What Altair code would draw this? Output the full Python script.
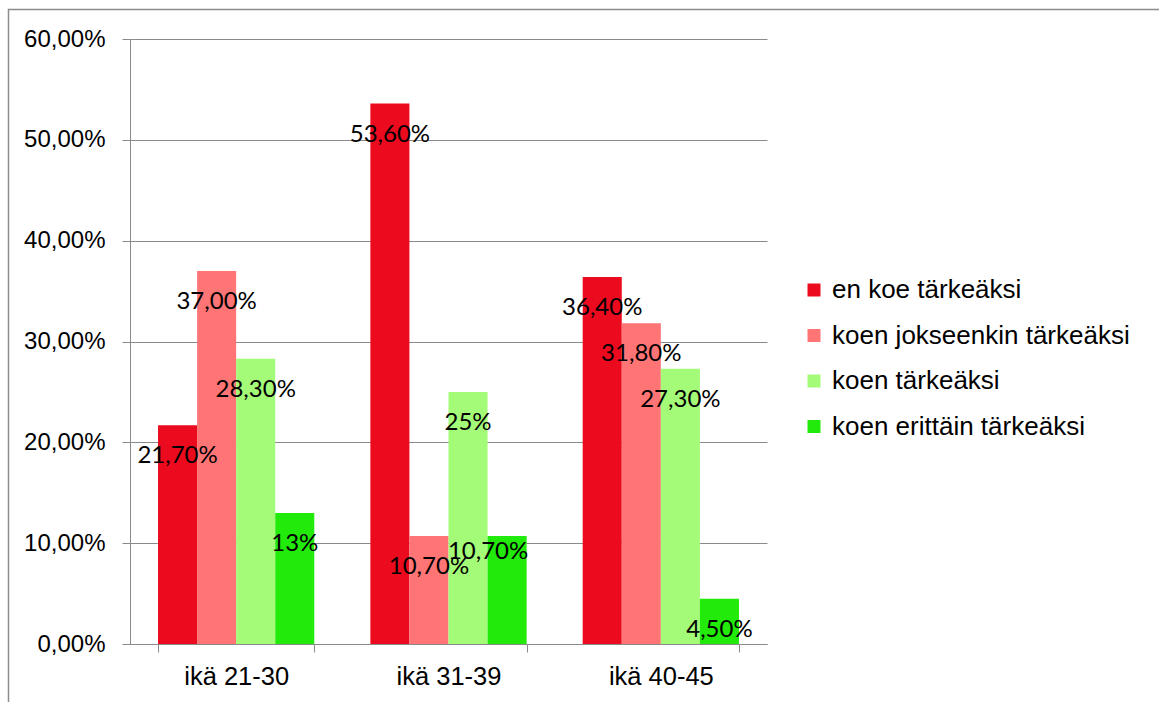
import altair as alt
import pandas as pd

groups = ["ikä 21-30", "ikä 31-39", "ikä 40-45"]
series = [
    "en koe tärkeäksi",
    "koen jokseenkin tärkeäksi",
    "koen tärkeäksi",
    "koen erittäin tärkeäksi",
]
values_en_koe = [21.7, 53.6, 36.4]
values_jokseenkin = [37.0, 10.7, 31.8]
values_tarkeaksi = [28.3, 25.0, 27.3]
values_erittain = [13.0, 10.7, 4.5]
labels_en_koe = ["21,70%", "53,60%", "36,40%"]
labels_jokseenkin = ["37,00%", "10,70%", "31,80%"]
labels_tarkeaksi = ["28,30%", "25%", "27,30%"]
labels_erittain = ["13%", "10,70%", "4,50%"]
y_ticks = [0, 10, 20, 30, 40, 50, 60]
colors = ["#EB0A1E", "#FF7474", "#A4FB78", "#22EA0A"]

series_values = [values_en_koe, values_jokseenkin, values_tarkeaksi, values_erittain]
series_labels = [labels_en_koe, labels_jokseenkin, labels_tarkeaksi, labels_erittain]

rows = []
for s, vals, labs in zip(series, series_values, series_labels):
    for g, v, l in zip(groups, vals, labs):
        rows.append({"group": g, "series": s, "value": v, "label": l})
df = pd.DataFrame(rows)

GRAY = "#8a8a8a"

x_enc = alt.X(
    "group:N",
    sort=groups,
    scale=alt.Scale(paddingInner=0.264, paddingOuter=0.132),
    axis=alt.Axis(
        title=None,
        tickBand="extent",
        labelAngle=0,
        labelFont="Liberation Sans",
        labelFontSize=25.5,
        labelColor="black",
        labelPadding=12,
        tickSize=8,
        tickColor=GRAY,
        domainColor=GRAY,
        grid=False,
    ),
)
xo_enc = alt.XOffset("series:N", sort=series, scale=alt.Scale(paddingInner=0, paddingOuter=0))
y_enc = alt.Y(
    "value:Q",
    scale=alt.Scale(domain=[0, 60], nice=False, zero=True),
    axis=alt.Axis(
        title=None,
        values=y_ticks,
        labelExpr="replace(format(datum.value, '.2f'), '.', ',') + '%'",
        labelFont="Liberation Sans",
        labelFontSize=24,
        labelColor="black",
        labelPadding=17,
        tickSize=8,
        tickColor=GRAY,
        domainColor=GRAY,
        gridColor=GRAY,
        gridWidth=1.2,
    ),
)

base = alt.Chart(df)

bars = base.mark_bar().encode(
    x=x_enc,
    xOffset=xo_enc,
    y=y_enc,
    color=alt.Color(
        "series:N",
        sort=series,
        scale=alt.Scale(domain=series, range=colors),
        title=None,
        legend=alt.Legend(
            orient="none",
            legendX=671,
            legendY=238,
            symbolType="square",
            symbolSize=169,
            symbolStrokeWidth=0,
            labelFont="Liberation Sans",
            labelFontSize=26,
            labelColor="black",
            labelOffset=5,
            labelLimit=500,
            rowPadding=19.5,
        ),
    ),
)

special = "datum.group == 'ikä 31-39' && datum.series == 'koen erittäin tärkeäksi'"

text_common = dict(font="Lato", fontSize=24, color="black", baseline="middle", align="center")

texts = base.transform_filter("!(" + special + ")").mark_text(dy=31, **text_common).encode(
    x=alt.X("group:N", sort=groups),
    xOffset=alt.XOffset("series:N", sort=series),
    y=alt.Y("value:Q"),
    text="label:N",
)
texts_special = base.transform_filter(special).mark_text(dy=16, dx=-19, **text_common).encode(
    x=alt.X("group:N", sort=groups),
    xOffset=alt.XOffset("series:N", sort=series),
    y=alt.Y("value:Q"),
    text="label:N",
)

frame = alt.Chart(alt.Data(values=[{"f": 1}])).mark_rect(
    fillOpacity=0, stroke="#8c8c8c", strokeWidth=1.5, clip=False
).encode(
    x=alt.value(-121.5),
    x2=alt.value(1100),
    y=alt.value(-29.5),
    y2=alt.value(700),
)

chart = (
    alt.layer(frame, bars, texts, texts_special)
    .properties(
        width=637,
        height=605,
        padding={"left": 130, "top": 39, "right": 392, "bottom": 58},
        autosize=alt.AutoSizeParams(type="none"),
        background="white",
    )
    .configure_view(stroke=None)
)

chart.save("out.html", embed_options={"renderer": "svg", "actions": False})
